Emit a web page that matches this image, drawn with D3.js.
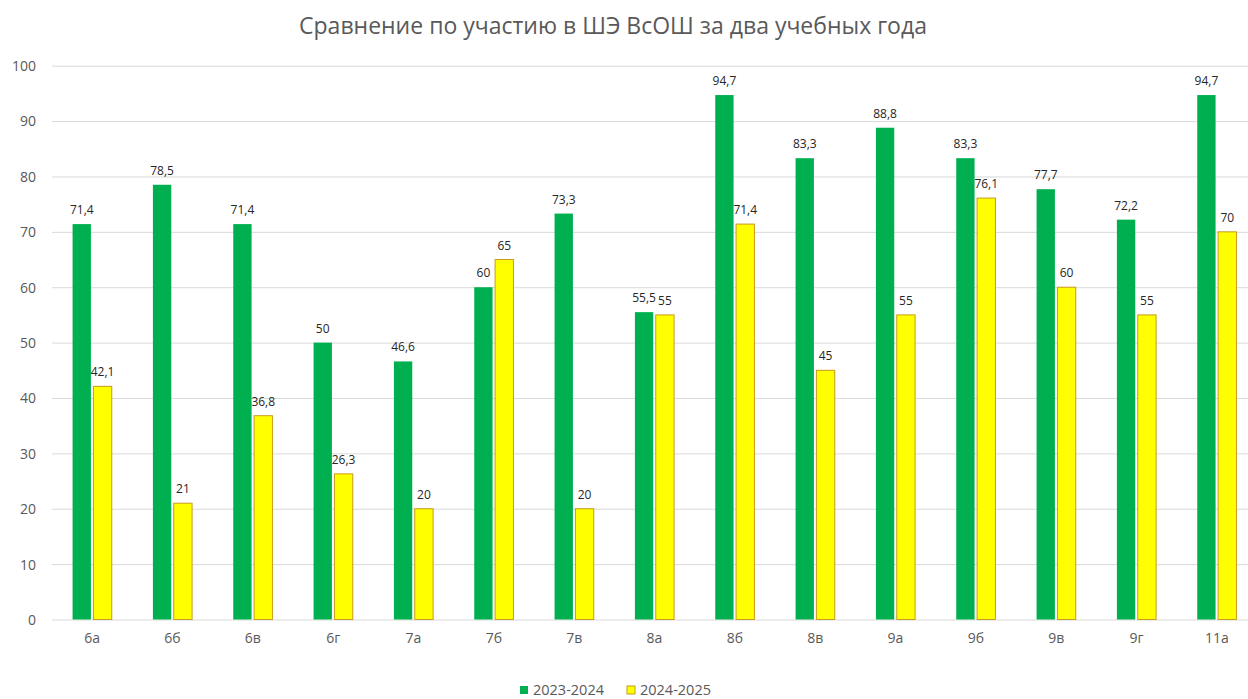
<!DOCTYPE html>
<html><head><meta charset="utf-8">
<script src="https://cdn.jsdelivr.net/npm/d3@7"></script>
<style>body{margin:0;background:#fff;}svg{display:block;font-family:"Open Sans","Noto Sans",sans-serif;}</style>
</head><body>
<svg id="c" width="1248" height="699"></svg>
<script>
const categories = ["6а","6б","6в","6г","7а","7б","7в","8а","8б","8в","9а","9б","9в","9г","11а"];
const series2023 = [71.4,78.5,71.4,50,46.6,60,73.3,55.5,94.7,83.3,88.8,83.3,77.7,72.2,94.7];
const series2024 = [42.1,21,36.8,26.3,20,65,20,55,71.4,45,55,76.1,60,55,70];
const seriesNames = ["2023-2024","2024-2025"];
const yTicks = [0,10,20,30,40,50,60,70,80,90,100];
const title = "Сравнение по участию в ШЭ ВсОШ за два учебных года";

const svg = d3.select("#c");
const pLeft = 52, pRight = 1257, pTop = 65.7, pBottom = 619.5;
const x0 = d3.scaleBand().domain(categories).range([pLeft, pRight]).paddingInner(0.45).paddingOuter(0.225);
const x1 = d3.scaleBand().domain(seriesNames).range([0, x0.bandwidth()]).padding(0.12);
const y = d3.scaleLinear().domain([0,100]).range([pBottom, pTop]);
const colors = {"2023-2024":"#00B050","2024-2025":"#FFFF00"};
const strokes = {"2023-2024":"none","2024-2025":"#C99A1E"};

svg.append("text").attr("x",613).attr("y",34).attr("text-anchor","middle")
  .attr("font-size",23).attr("fill","#595959").text(title);

// grid
const yAxis = d3.axisLeft(y).tickValues(yTicks).tickSize(-(1248-pLeft)).tickFormat(d3.format("d"));
const ga = svg.append("g").attr("transform",`translate(${pLeft},0)`).call(yAxis);
ga.select(".domain").remove();
ga.selectAll(".tick line").attr("stroke","#D9D9D9").attr("stroke-width",1);
ga.selectAll(".tick text").attr("fill","#595959").attr("font-size",14).attr("x",-16).attr("dy","0.35em")
  .style("font-family","'Open Sans',sans-serif");

const data = categories.map((c,i)=>({cat:c, vals:[{s:seriesNames[0],v:series2023[i]},{s:seriesNames[1],v:series2024[i]}]}));
const groups = svg.append("g").selectAll("g").data(data).join("g")
  .attr("transform",d=>`translate(${x0(d.cat)},0)`);
groups.selectAll("rect").data(d=>d.vals).join("rect")
  .attr("x",d=>x1(d.s)).attr("width",x1.bandwidth())
  .attr("y",d=>y(d.v)).attr("height",d=>y(0)-y(d.v))
  .attr("fill",d=>colors[d.s]).attr("stroke",d=>strokes[d.s]).attr("stroke-width",1);
groups.selectAll("text").data(d=>d.vals).join("text")
  .attr("x",d=>x1(d.s)+x1.bandwidth()/2).attr("y",d=>y(d.v)-10)
  .attr("text-anchor","middle").attr("font-size",12).attr("fill","#262626")
  .text(d=>String(d.v).replace(".",","));

// x axis
const xAxis = d3.axisBottom(x0).tickSize(0).tickPadding(14);
const gx = svg.append("g").attr("transform",`translate(0,${pBottom})`).call(xAxis);
gx.select(".domain").remove();
gx.selectAll(".tick text").attr("fill","#595959").attr("font-size",14).style("font-family","'Open Sans',sans-serif");

// legend
const leg = svg.append("g").attr("transform","translate(520,686)");
const lx = [0, 107];
seriesNames.forEach((s,i)=>{
  leg.append("rect").attr("x",lx[i]).attr("y",0).attr("width",8).attr("height",8)
    .attr("fill",colors[s]).attr("stroke",strokes[s]);
  leg.append("text").attr("x",lx[i]+13).attr("y",4).attr("dy","0.35em").attr("font-size",14.5)
    .attr("fill","#595959").text(s);
});
</script>
</body></html>
